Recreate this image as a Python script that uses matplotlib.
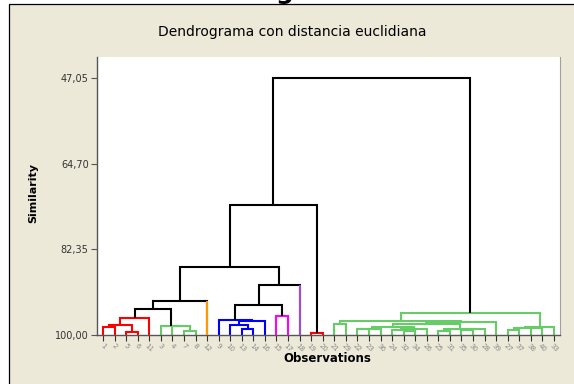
import matplotlib
matplotlib.use("Agg")
import matplotlib.pyplot as plt
from matplotlib.patches import Rectangle

# ---------------- data ----------------
leaf_order = [1, 2, 5, 6, 11, 3, 4, 7, 8, 12, 9, 10, 13, 14, 16, 15, 17, 18, 19, 20,
              21, 29, 22, 23, 36, 24, 32, 34, 26, 25, 31, 35, 30, 28, 39, 27, 37, 38, 40, 33]

RED, GREEN, ORANGE, BLUE, MAGENTA, PURPLE, BLACK = (
    "#FF0000", "#66CC66", "#FF9900", "#0000FF", "#FF00FF", "#9B4FD0", "#000000")

# merges: (name, left child, right child, similarity, colour)
merges = [
    ("m1", 1, 2, 98.41, RED),
    ("m2", 5, 6, 99.44, RED),
    ("m3", "m1", "m2", 98.00, RED),
    ("m4", "m3", 11, 96.56, RED),
    ("m5", 7, 8, 99.17, GREEN),
    ("m6", 4, "m5", 98.16, GREEN),
    ("m7", 3, "m6", 98.10, GREEN),
    ("m8", "m4", "m7", 94.57, BLACK),
    ("m9", "m8", 12, 92.92, BLACK),
    ("m10", 13, 14, 98.82, BLUE),
    ("m11", 10, "m10", 98.00, BLUE),
    ("m12", "m11", 16, 97.10, BLUE),
    ("m13", 9, "m12", 96.97, BLUE),
    ("m14", 15, 17, 96.14, MAGENTA),
    ("m15", "m13", "m14", 93.81, BLACK),
    ("m16", "m15", 18, 89.75, BLACK),
    ("m17", "m9", "m16", 85.91, BLACK),
    ("m18", 19, 20, 99.55, RED),
    ("m19", "m17", "m18", 73.18, BLACK),
    ("m20", 21, 29, 97.73, GREEN),
    ("m21", 22, 23, 98.83, GREEN),
    ("m22", "m21", 36, 98.78, GREEN),
    ("m23", 32, 34, 99.10, GREEN),
    ("m24", 24, "m23", 98.97, GREEN),
    ("m25", "m24", 26, 98.85, GREEN),
    ("m26", "m22", "m25", 98.29, GREEN),
    ("m27", 25, 31, 99.17, GREEN),
    ("m28", 35, 30, 98.90, GREEN),
    ("m29", "m28", 28, 98.83, GREEN),
    ("m30", "m27", "m29", 98.76, GREEN),
    ("m31", "m26", "m30", 97.73, GREEN),
    ("m32", "m31", 39, 97.38, GREEN),
    ("m33", "m20", "m32", 97.05, GREEN),
    ("m34", 27, 37, 98.97, GREEN),
    ("m35", 38, 40, 98.62, GREEN),
    ("m36", "m34", "m35", 98.55, GREEN),
    ("m37", "m36", 33, 98.41, GREEN),
    ("m38", "m33", "m37", 95.52, GREEN),
    ("m39", "m19", "m38", 47.05, BLACK),
]

# leaves that form a cluster on their own
singleton_colors = {12: ORANGE, 18: PURPLE}

y_ticks = [47.05, 64.70, 82.35, 100.00]
y_tick_labels = ["47,05", "64,70", "82,35", "100,00"]

top_title = "Dendrogram"
title = "Dendrograma con distancia euclidiana"
xlabel = "Observations"
ylabel = "Similarity"

# ---------------- figure ----------------
W, H = 574, 384
fig = plt.figure(figsize=(W / 100, H / 100), dpi=100)
fig.patch.set_facecolor("white")

panel = Rectangle((9 / W, -0.05), 1.0, 1 - 4 / H + 0.05, transform=fig.transFigure,
                  facecolor="#ECE9D8", edgecolor="black", lw=0.9, zorder=-5)
fig.patches.append(panel)

# main title, almost entirely above the top edge (only the descender shows)
fig.text(350 / W, 1 + 0.5 / H, top_title, ha="right", va="baseline",
         fontsize=18, fontweight="bold", color="black", zorder=10)

ax = fig.add_axes([97 / W, 1 - 335 / H, (560 - 97) / W, (335 - 57) / H])
ax.set_facecolor("white")

pos = {leaf: i for i, leaf in enumerate(leaf_order)}
height = {leaf: 100.0 for leaf in leaf_order}
center = dict(pos)

lw = 1.5
for name, a, b, sim, col in merges:
    xa, xb = center[a], center[b]
    ha_, hb_ = height[a], height[b]
    ax.plot([xa, xa, xb, xb], [ha_, sim, sim, hb_], color=col, lw=lw,
            solid_joinstyle="miter", solid_capstyle="butt", clip_on=False, zorder=2)
    for child, xc, hc in ((a, xa, ha_), (b, xb, hb_)):
        if child in singleton_colors:
            ax.plot([xc, xc], [hc, sim], color=singleton_colors[child], lw=lw,
                    solid_capstyle="butt", clip_on=False, zorder=3)
    center[name] = (xa + xb) / 2
    height[name] = sim

ax.set_xlim(-0.52, len(leaf_order) - 1 + 0.52)
ax.set_ylim(100, 42.65)

ax.set_yticks(y_ticks)
ax.set_yticklabels(y_tick_labels)
ax.set_xticks(range(len(leaf_order)))
ax.set_xticklabels([str(l) for l in leaf_order], rotation=-45, ha="center", va="top")

ax.tick_params(axis="y", length=4, width=0.8, color="#555555", labelsize=7,
               labelcolor="#333333", pad=2)
ax.tick_params(axis="x", length=4, width=0.8, color="#333333", labelsize=5,
               labelcolor="#8A8A8A", pad=1.5)

ax.spines["top"].set_visible(False)
ax.spines["right"].set_color("#A0A0A0")
ax.spines["right"].set_linewidth(0.8)
ax.spines["left"].set_color("#555555")
ax.spines["bottom"].set_color("#555555")
ax.spines["left"].set_linewidth(1.0)
ax.spines["bottom"].set_linewidth(1.0)

fig.text(292 / W, 1 - 32 / H, title, ha="center", va="center", fontsize=10, color="black")
fig.text(327 / W, 1 - 359 / H, xlabel, ha="center", va="center", fontsize=8.5,
         fontweight="bold", color="black")
fig.text(33 / W, 1 - 193 / H, ylabel, ha="center", va="center", rotation=90,
         fontsize=8, fontweight="bold", color="black")

fig.savefig("out.png", dpi=100)
